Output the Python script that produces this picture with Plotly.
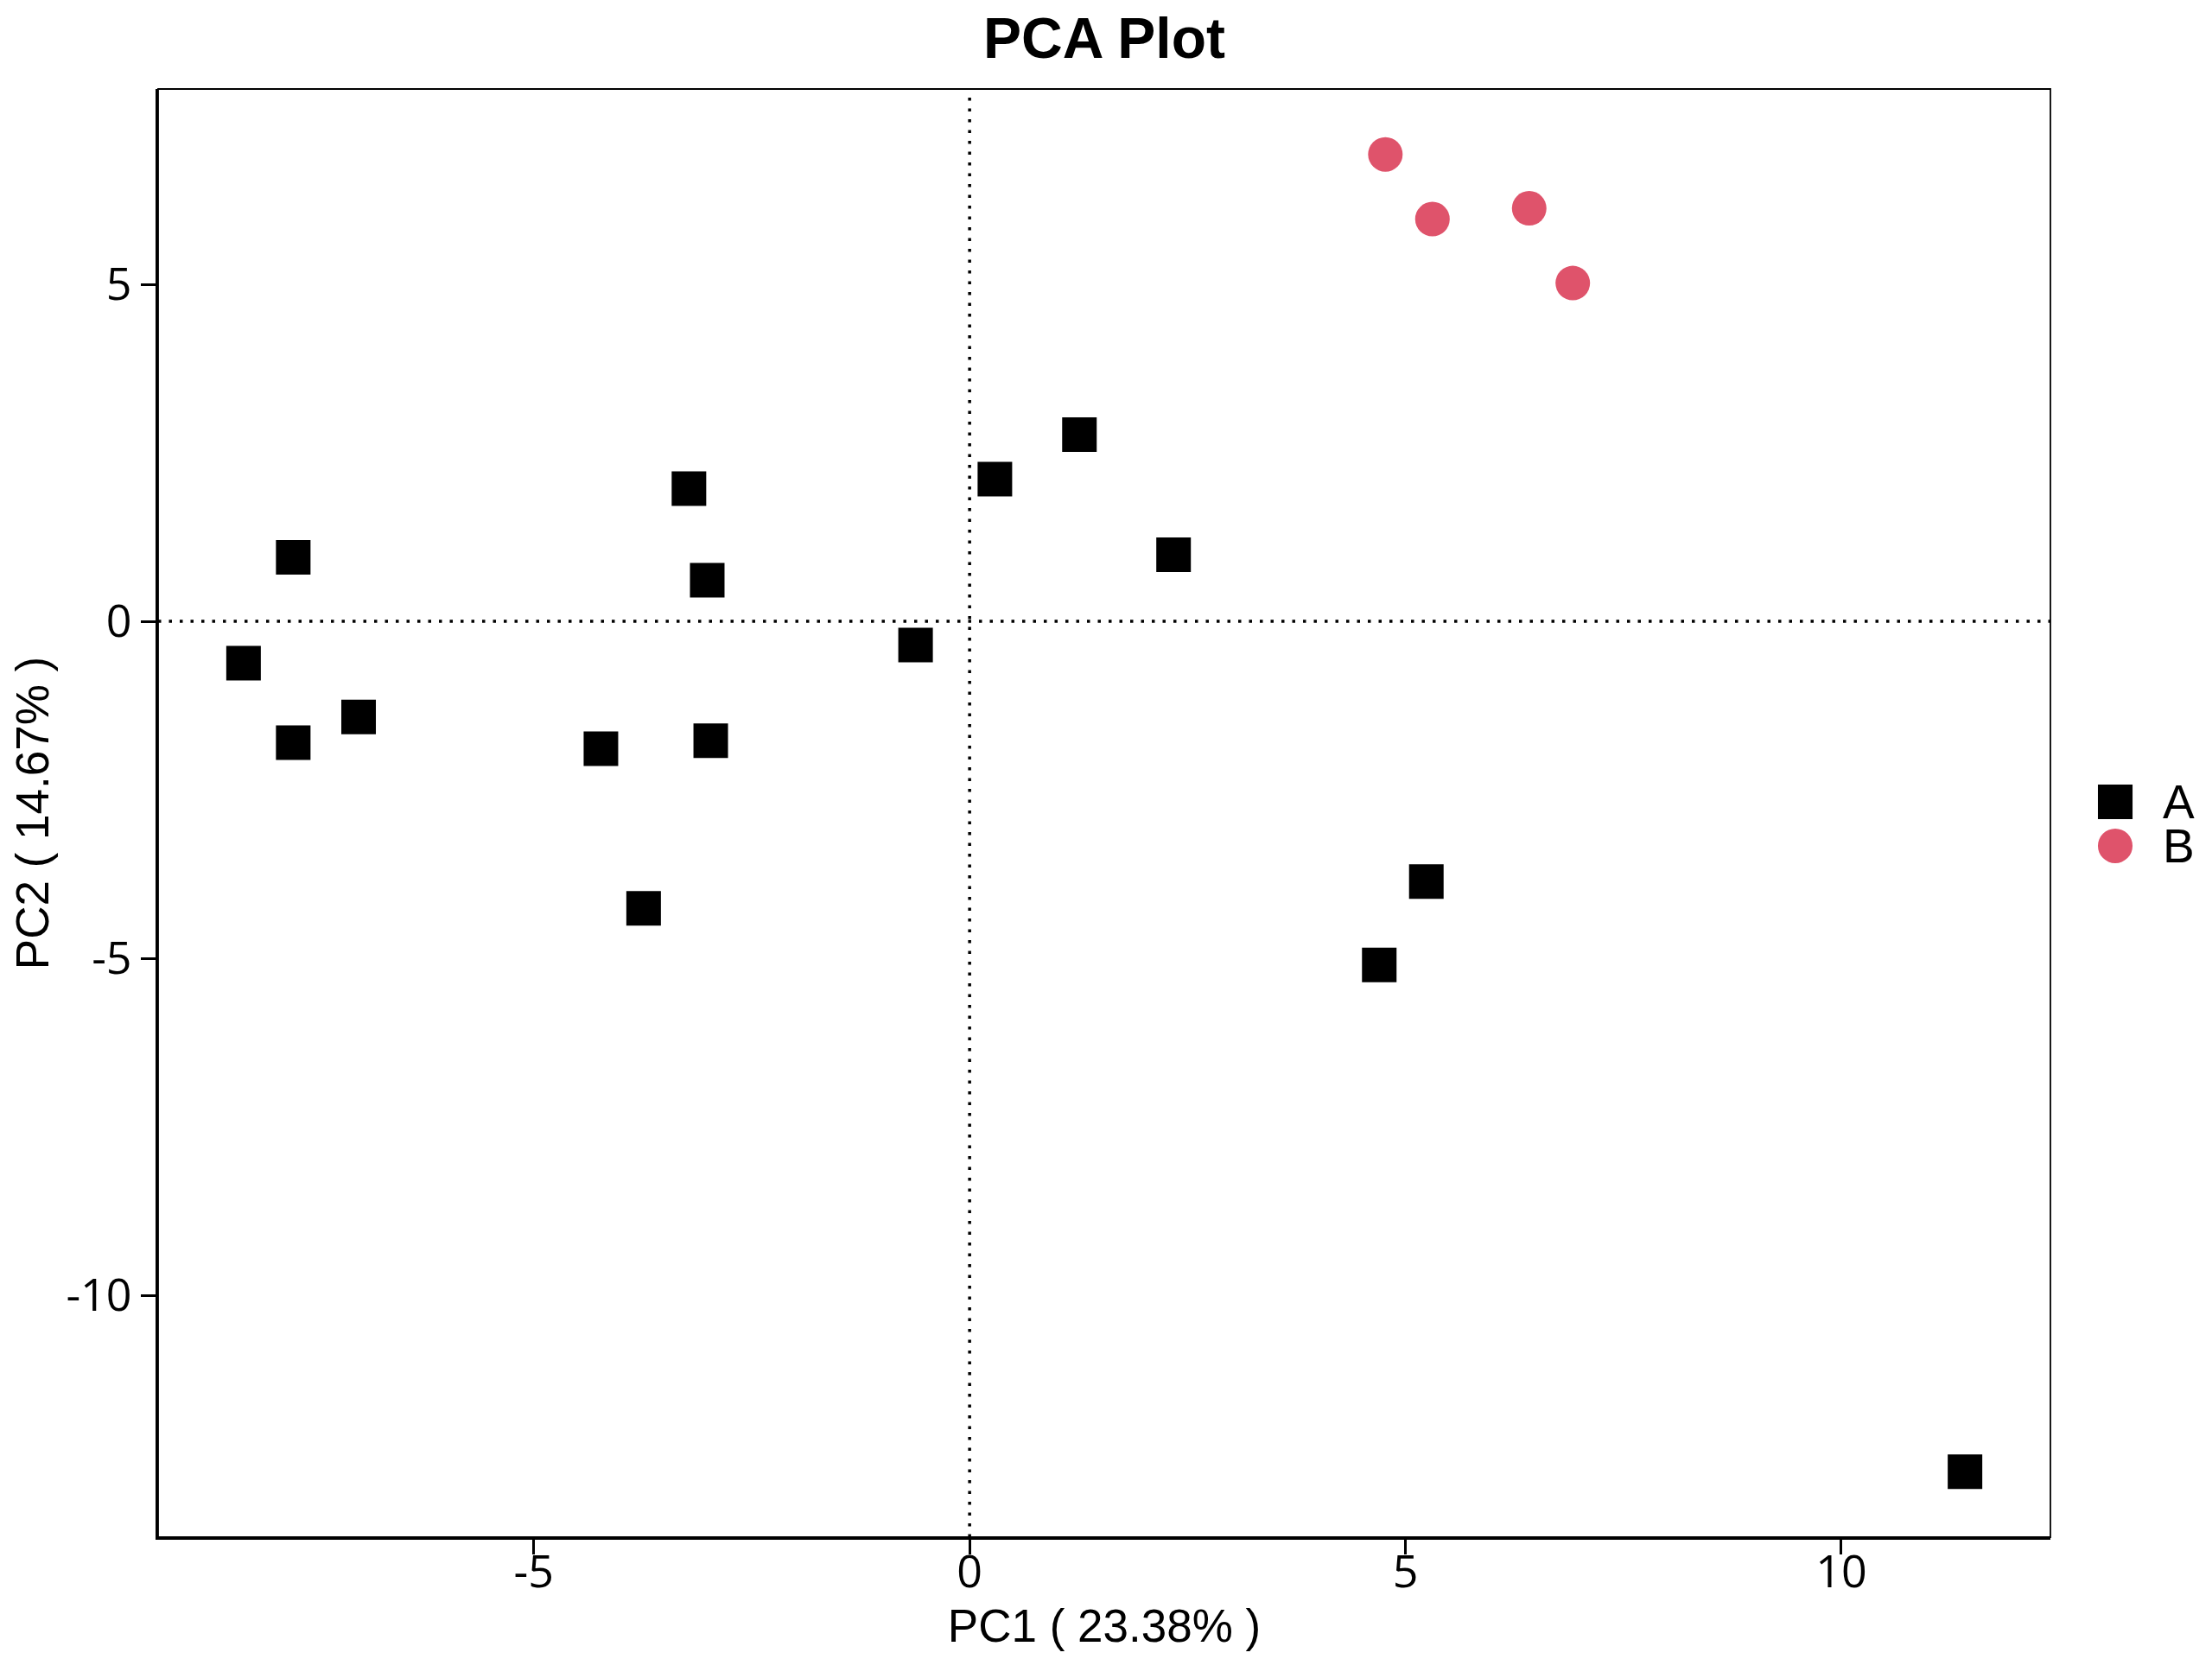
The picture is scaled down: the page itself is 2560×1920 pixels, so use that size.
import plotly.graph_objects as go

# PCA scores
group_a_pc1 = [-7.76, -8.33, -7.76, -7.01, -3.22, -3.01, -4.23, -2.97, -3.74,
               -0.62, 0.29, 1.26, 2.34, 5.24, 4.70, 11.42]
group_a_pc2 = [0.95, -0.62, -1.80, -1.42, 1.97, 0.61, -1.89, -1.77, -4.26,
               -0.35, 2.11, 2.77, 0.99, -3.86, -5.10, -12.62]
group_b_pc1 = [4.77, 5.31, 6.42, 6.92]
group_b_pc2 = [6.93, 5.97, 6.13, 5.02]

group_names = ["A", "B"]
group_colors = ["black", "#DF536B"]
x_ticks = [-5, 0, 5, 10]
x_ticktext = ["-5", "0", "5", "10"]
y_ticks = [-10, -5, 0, 5]
y_ticktext = ["-10", "-5", "0", "5"]
x_title = "PC1 ( 23.38% )"
y_title = "PC2 ( 14.67% )"

TICK_FONT = dict(family="Open Sans", size=52, color="black")
LABEL_FONT = dict(family="Liberation Sans", size=53, color="black")

fig = go.Figure()

fig.add_trace(go.Scatter(
    x=group_a_pc1, y=group_a_pc2,
    mode="markers",
    name=group_names[0],
    showlegend=False,
    marker=dict(symbol="square", size=40, color=group_colors[0], line=dict(width=0)),
))
fig.add_trace(go.Scatter(
    x=group_b_pc1, y=group_b_pc2,
    mode="markers",
    name=group_names[1],
    showlegend=False,
    marker=dict(symbol="circle", size=40, color=group_colors[1], line=dict(width=0)),
))

# dotted reference lines through the origin
fig.add_vline(x=0, line=dict(color="black", width=3.5, dash="3.5px,9px"), layer="below")
fig.add_hline(y=0, line=dict(color="black", width=3.5, dash="3.5px,9px"), layer="below")

# thin frame around the panel (left/bottom are drawn thicker by the axes)
fig.add_shape(type="rect", xref="paper", yref="paper", x0=0, y0=0, x1=1, y1=1,
              line=dict(color="black", width=1.8), layer="above")

# legend drawn by hand: plotly caps legend symbols far below the 40px markers
fig.add_shape(type="rect", xref="paper", yref="paper",
              x0=1.0251, x1=1.0434, y0=0.4958, y1=0.5197,
              fillcolor=group_colors[0], line=dict(width=0))
fig.add_shape(type="circle", xref="paper", yref="paper",
              x0=1.0251, x1=1.0434, y0=0.4654, y1=0.4893,
              fillcolor=group_colors[1], line=dict(width=0))
for name, ypos in zip(group_names, [0.5078, 0.4773]):
    fig.add_annotation(
        text=name, xref="paper", yref="paper", x=1.0584, y=ypos,
        xanchor="left", yanchor="middle", showarrow=False,
        font=dict(family="Liberation Sans", size=55, color="black"),
    )

axis_common = dict(
    showgrid=False,
    zeroline=False,
    showline=True,
    linecolor="black",
    linewidth=3,
    ticks="outside",
    ticklen=17,
    tickwidth=2.5,
    tickcolor="black",
    tickfont=TICK_FONT,
    automargin=False,
)

fig.update_xaxes(
    range=[-9.31, 12.40],
    tickvals=x_ticks,
    ticktext=x_ticktext,
    ticklabelstandoff=-24,
    title=dict(text=x_title, font=LABEL_FONT, standoff=3),
    **axis_common,
)
fig.update_yaxes(
    range=[-13.59, 7.90],
    tickvals=y_ticks,
    ticktext=y_ticktext,
    title=dict(text=y_title, font=LABEL_FONT, standoff=28),
    **axis_common,
)

fig.update_layout(
    width=2560,
    height=1920,
    margin=dict(l=175, r=195, t=95, b=149, pad=0),
    paper_bgcolor="white",
    plot_bgcolor="white",
    title=dict(
        text="<b>PCA Plot</b>",
        font=dict(family="Liberation Sans", size=66, color="black"),
        x=0.5, xref="paper", xanchor="center",
        y=1 - 36 / 1920, yref="container", yanchor="middle",
    ),
    showlegend=False,
)

fig.write_html("out.html")
